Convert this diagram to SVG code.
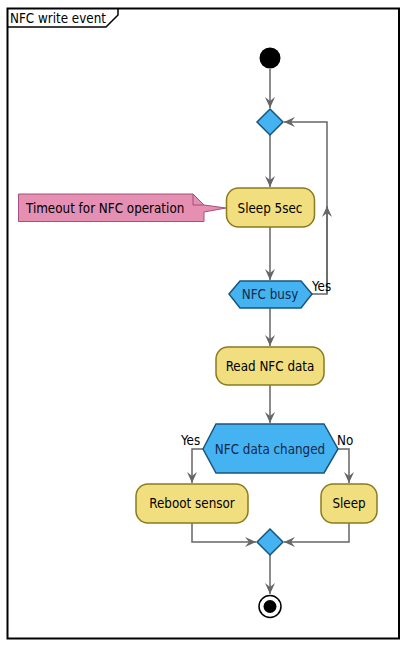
<svg xmlns="http://www.w3.org/2000/svg" width="404" height="649" viewBox="0 0 404 649">
<style>
.t{font-family:"DejaVu Sans Condensed","DejaVu Sans","Liberation Sans",sans-serif;font-size:13.3px;fill:#000}
.tc{text-anchor:middle}
.act{fill:#F1DE7F;stroke:#8C7A1E;stroke-width:1.5}
.dec{fill:#45B3F2;stroke:#18557A;stroke-width:1.5}
.dt{fill:#13294B}
.ln{fill:none;stroke:#666;stroke-width:1.5}
</style>
<defs>
<marker id="a" viewBox="0 0 12 10" refX="11" refY="5" markerWidth="12" markerHeight="10" markerUnits="userSpaceOnUse" orient="auto">
<path d="M0,0 L11,5 L0,10 L4,5 Z" fill="#666"/>
</marker>
</defs>
<rect x="0" y="0" width="404" height="649" fill="#fff"/>
<g id="frame">
<rect x="7.5" y="8.5" width="391.5" height="630" fill="none" stroke="#000" stroke-width="2"/>
<path d="M7.5,27 L106,27 L118,15 L118,8.5" fill="none" stroke="#000" stroke-width="1.5"/>
<text class="t" x="10" y="22.5">NFC write event</text>
</g>
<g id="connectors">
<line class="ln" x1="270" y1="69" x2="270" y2="108" marker-end="url(#a)"/>
<line class="ln" x1="270" y1="135" x2="270" y2="187" marker-end="url(#a)"/>
<line class="ln" x1="270" y1="227" x2="270" y2="280" marker-end="url(#a)"/>
<path class="ln" d="M312,294 L327,294 L327,122 L284,122" marker-end="url(#a)"/>
<path class="ln" d="M327,294 L327,206" marker-end="url(#a)"/>
<text class="t" x="312" y="291">Yes</text>
<line class="ln" x1="270" y1="308" x2="270" y2="346" marker-end="url(#a)"/>
<line class="ln" x1="270" y1="385" x2="270" y2="423" marker-end="url(#a)"/>
<path class="ln" d="M203,449 L192,449 L192,483" marker-end="url(#a)"/>
<text class="t" x="181" y="445">Yes</text>
<path class="ln" d="M338,449 L349,449 L349,483" marker-end="url(#a)"/>
<text class="t" x="337" y="445">No</text>
<path class="ln" d="M192,523 L192,542 L256,542" marker-end="url(#a)"/>
<path class="ln" d="M349,523 L349,542 L284,542" marker-end="url(#a)"/>
<line class="ln" x1="270" y1="555" x2="270" y2="594" marker-end="url(#a)"/>
</g>
<g id="start"><circle cx="270" cy="58" r="10.5" fill="#000"/></g>
<g id="merge1"><path class="dec" d="M270,109 L283,122 L270,135 L257,122 Z"/></g>
<g id="note">
<path d="M18.5,194 L193,194 L204,205 L226,208 L204,212 L204,221.5 L18.5,221.5 Z" fill="#E58FB3" stroke="#A4507A" stroke-width="1"/>
<path d="M193,194 L193,205 L204,205" fill="none" stroke="#A4507A" stroke-width="1"/>
<text class="t" x="26" y="213">Timeout for NFC operation</text>
</g>
<g id="sleep5">
<rect class="act" x="226.5" y="188" width="88" height="39" rx="12"/>
<text class="t tc" x="270" y="212.5">Sleep 5sec</text>
</g>
<g id="busy">
<path class="dec" d="M229,294 L240,281 L301,281 L312,294 L301,308 L240,308 Z"/>
<text class="t tc dt" x="270" y="299">NFC busy</text>
</g>
<g id="read">
<rect class="act" x="216" y="347" width="108" height="38" rx="12"/>
<text class="t tc" x="270" y="371">Read NFC data</text>
</g>
<g id="changed">
<path class="dec" d="M203,449 L216,424 L324,424 L338,449 L324,473 L216,473 Z"/>
<text class="t tc dt" x="270" y="454">NFC data changed</text>
</g>
<g id="reboot">
<rect class="act" x="136" y="484" width="112" height="39" rx="12"/>
<text class="t tc" x="192" y="508">Reboot sensor</text>
</g>
<g id="sleep">
<rect class="act" x="321" y="484" width="56" height="39" rx="12"/>
<text class="t tc" x="349" y="508">Sleep</text>
</g>
<g id="merge2"><path class="dec" d="M270,529 L283,542 L270,555 L257,542 Z"/></g>
<g id="end">
<circle cx="270" cy="606.5" r="11" fill="#fff" stroke="#000" stroke-width="1.5"/>
<circle cx="270" cy="606.5" r="6.5" fill="#000"/>
</g>
</svg>
